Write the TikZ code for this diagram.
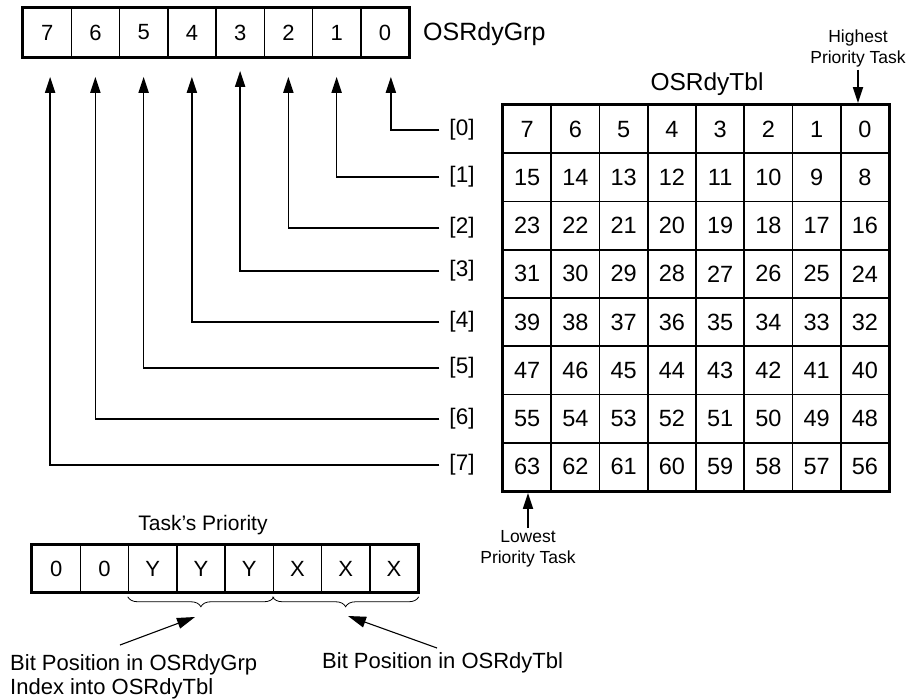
\documentclass[tikz,border=0pt]{standalone}
\usepackage{fontspec}
\setmainfont{Liberation Sans}
\usetikzlibrary{arrows.meta,decorations.pathreplacing}
\tikzset{
  gcell/.style={draw, line width=1.5pt, minimum width=48.25pt, minimum height=49pt, inner sep=0pt, font=\fontsize{22}{22}\selectfont},
  pcell/.style={draw, line width=1.5pt, minimum width=48.25pt, minimum height=47pt, inner sep=0pt, font=\fontsize{22}{22}\selectfont},
  tcell/.style={draw, line width=1.8pt, minimum width=48.25pt, minimum height=48.25pt, inner sep=0pt, font=\fontsize{23.5}{23.5}\selectfont},
  outerbox/.style={line width=2.8pt},
  rowlbl/.style={inner sep=0pt, outer xsep=10pt, font=\fontsize{22.5}{22.5}\selectfont},
  conn/.style={line width=1.7pt, -{Triangle[length=16pt,width=10pt]}},
  thinarr/.style={line width=1.1pt, -{Triangle[length=18pt,width=11pt]}},
  brc/.style={decorate, decoration={brace, mirror, amplitude=10pt, raise=4pt}, line width=0.8pt},
  title/.style={inner sep=0pt, font=\fontsize{24.5}{24.5}\selectfont},
  small/.style={inner sep=0pt, align=center, font=\fontsize{17.5}{21.5}\selectfont},
  big/.style={inner sep=0pt, align=left, font=\fontsize{22}{24}\selectfont}
}
\begin{document}
\begin{tikzpicture}[x=1pt,y=-1pt]
\useasboundingbox (0,0) rectangle (910,699);

% OSRdyGrp
\foreach \b in {0,...,7}
  \node[gcell] (g\b) at ({23+48.25*(7-\b+0.5)},32.5) {\b};
\draw[outerbox] (g7.north west) rectangle (g0.south east);
\node[title, anchor=base west, font=\fontsize{25}{25}\selectfont] (grpT) at (423,40) {OSRdyGrp};

% OSRdyTbl
\foreach \r in {0,...,7}
  \foreach \c in {0,...,7}{
    \pgfmathtruncatemacro{\v}{8*\r+7-\c}
    \node[tcell] (t\r\c) at ({503+48.25*(\c+0.5)},{105+48.25*(\r+0.5)}) {\v};
  }
\draw[outerbox] (t00.north west) rectangle (t77.south east);
\node[title, anchor=base] (tblT) at (707,90) {OSRdyTbl};

% Row labels and connectors
\foreach \i/\y in {0/130,1/177,2/228,3/271,4/322,5/368,6/419,7/465}
  \node[rowlbl] (r\i) at (462,\y) {[\i]};
\draw[conn, shorten >=19pt] (r0.west) -| ([xshift=6pt]g0.south);
\draw[conn, shorten >=19pt] (r1.west) -| (g1.south);
\draw[conn, shorten >=19pt] (r2.west) -| (g2.south);
\draw[conn, shorten >=13pt] (r3.west) -| (g3.south);
\draw[conn, shorten >=19pt] (r4.west) -| (g4.south);
\draw[conn, shorten >=19pt] (r5.west) -| (g5.south);
\draw[conn, shorten >=19pt] (r6.west) -| (g6.south);
\draw[conn, shorten >=19pt] (r7.west) -| ([xshift=3pt]g7.south);

% Highest / Lowest
\node[small, anchor=north] (hi) at (858,29.5) {Highest\\Priority Task};
\draw[conn, shorten <=2pt, shorten >=1pt] (hi.south) -- (hi.south |- t07.north);
\node[small, anchor=north] (lo) at (528,530) {Lowest\\Priority Task};
\draw[conn, shorten >=1pt, shorten <=2pt] (lo.north) -- (lo.north |- t70.south);

% Task's Priority
\foreach \k/\t in {0/0,1/0,2/Y,3/Y,4/Y,5/X,6/X,7/X}
  \node[pcell] (p\k) at ({32+48.25*(\k+0.5)},568.5) {\t};
\draw[outerbox] (p0.north west) rectangle (p7.south east);
\node[title, anchor=base, font=\fontsize{21}{21}\selectfont] (prT) at (203,530) {Task's Priority};

\draw[brc] (p2.south west) -- (p4.south east);
\draw[brc] (p5.south west) -- (p7.south east);

\node[big, anchor=north west] (bp1) at (10,654) {Bit Position in OSRdyGrp\\Index into OSRdyTbl};
\node[big, anchor=base west] (bp2) at (322,668) {Bit Position in OSRdyTbl};
\coordinate (a1) at (120,645);
\coordinate (b1) at (195,617);
\coordinate (a2) at (437,648);
\coordinate (b2) at (348,616);
\draw[thinarr] (a1) -- (b1);
\draw[thinarr] (a2) -- (b2);
\end{tikzpicture}
\end{document}
